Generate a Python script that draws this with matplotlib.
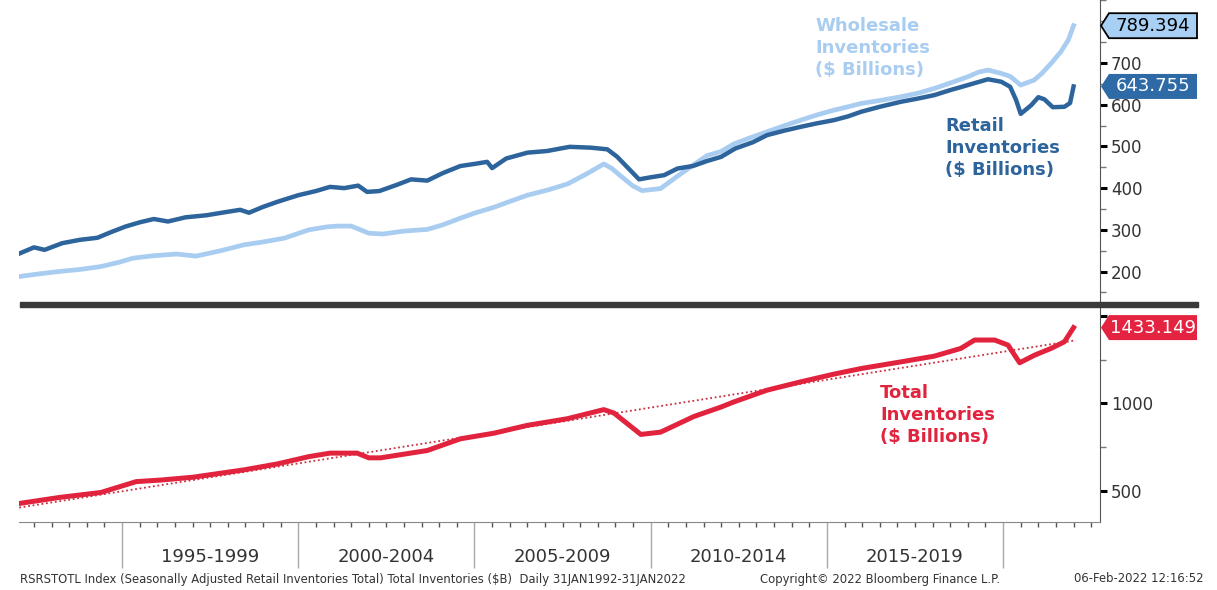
import numpy as np
import matplotlib
matplotlib.use('Agg')
import matplotlib.pyplot as plt
from matplotlib.patches import Polygon, Rectangle
from matplotlib.ticker import MultipleLocator, FixedLocator
from matplotlib.transforms import IdentityTransform, blended_transform_factory

plt.rcParams['font.family'] = 'DejaVu Sans'

# retail inventories ($B), month-end samples as decimal years
retail_t = [1992.08, 1992.5, 1992.8, 1993.3, 1993.8, 1994.3, 1994.7, 1995.1, 1995.5, 1995.9,
            1996.3, 1996.8, 1997.4, 1997.9, 1998.35, 1998.6, 1999.0, 1999.4, 2000.0, 2000.5,
            2000.9, 2001.3, 2001.7, 2001.95, 2002.3, 2002.8, 2003.2, 2003.66, 2004.1, 2004.6,
            2005.0, 2005.36, 2005.5, 2005.9, 2006.5, 2007.06, 2007.7, 2008.3, 2008.77, 2009.05,
            2009.67, 2010.0, 2010.38, 2010.76, 2011.2, 2011.6, 2012.0, 2012.4, 2012.9, 2013.3,
            2013.8, 2014.26, 2014.7, 2015.2, 2015.6, 2015.97, 2016.5, 2017.1, 2017.6, 2018.05,
            2018.5, 2019.0, 2019.57, 2019.95, 2020.2, 2020.37, 2020.5, 2020.8, 2021.0, 2021.17,
            2021.41, 2021.74, 2021.9, 2022.0]
retail_v = [243, 258, 252, 268, 276, 281, 295, 308, 318, 326,
            320, 330, 335, 342, 348, 341, 355, 367, 383, 393,
            403, 400, 406, 391, 393, 408, 421, 418, 436, 453,
            458, 463, 448, 471, 485, 489, 499, 497, 493, 475,
            421, 426, 431, 447, 453, 465, 475, 495, 510, 527,
            538, 547, 555, 563, 572, 583, 595, 607, 615, 623,
            635, 647, 661, 655, 643, 611, 578, 599, 618, 613,
            594, 595, 604, 643.755]

# wholesale inventories ($B)
whole_t = [1992.08, 1992.6, 1993.2, 1993.8, 1994.4, 1994.9, 1995.3, 1995.9, 1996.55, 1997.1,
           1997.8, 1998.45, 1999.0, 1999.6, 2000.3, 2000.8, 2001.1, 2001.5, 2002.0, 2002.4,
           2003.0, 2003.66, 2004.1, 2004.6, 2005.0, 2005.55, 2006.0, 2006.5, 2007.1, 2007.64,
           2008.2, 2008.67, 2008.9, 2009.15, 2009.5, 2009.76, 2010.28, 2010.7, 2011.2, 2011.6,
           2012.0, 2012.36, 2012.8, 2013.3, 2013.8, 2014.26, 2014.7, 2015.2, 2015.6, 2015.97,
           2016.5, 2017.1, 2017.6, 2018.05, 2018.5, 2019.0, 2019.3, 2019.57, 2019.95, 2020.2,
           2020.5, 2020.88, 2021.1, 2021.36, 2021.64, 2021.85, 2022.0]
whole_v = [188, 194, 200, 205, 212, 222, 232, 238, 242, 237,
           250, 264, 271, 280, 300, 307, 309, 309, 292, 290,
           297, 301, 312, 328, 340, 354, 368, 383, 396, 410,
           435, 458, 447, 429, 405, 394, 399, 425, 455, 478,
           488, 506, 520, 535, 550, 563, 575, 587, 595, 603,
           610, 619, 628, 639, 652, 667, 678, 683, 675, 668,
           647, 659, 675, 699, 727, 755, 789.394]

# total inventories ($B)
total_t = [1992.08, 1993.24, 1994.4, 1995.4, 1996.1, 1997.0, 1998.45, 1999.4, 2000.3, 2000.9,
           2001.67, 2002.0, 2002.33, 2003.66, 2004.6, 2005.55, 2006.5, 2007.64, 2008.67, 2008.96,
           2009.72, 2010.28, 2011.23, 2012.0, 2012.36, 2013.3, 2014.26, 2015.2, 2015.97, 2017.1,
           2018.05, 2018.8, 2019.19, 2019.76, 2020.14, 2020.47, 2020.9, 2021.36, 2021.74, 2022.0]
total_v = [427, 462, 490, 552, 561, 577, 619, 653, 695, 715,
           715, 688, 688, 730, 797, 829, 874, 912, 964, 944,
           822, 835, 925, 979, 1008, 1075, 1123, 1167, 1199, 1237,
           1270, 1314, 1362, 1362, 1333, 1232, 1276, 1314, 1352, 1433.149]

period_starts = [1995, 2000, 2005, 2010, 2015]

footer_left = ('RSRSTOTL Index (Seasonally Adjusted Retail Inventories Total) Total Inventories ($B)'
               '  Daily 31JAN1992-31JAN2022')
footer_mid = 'Copyright\u00a9 2022 Bloomberg Finance L.P.'
footer_right = '06-Feb-2022 12:16:52'

LIGHT = '#a9cdf1'
DARK = '#2d649c'
RED = '#e2233d'
TXT = '#333333'

W, H = 1217, 590
fig = plt.figure(figsize=(W / 100, H / 100), dpi=100)


def px_axes(x0, y0, x1, y1):
    return fig.add_axes([x0 / W, 1 - y1 / H, (x1 - x0) / W, (y1 - y0) / H])


ax_top = px_axes(19.2, 0, 1100, 302)
ax_bot = px_axes(19.2, 307, 1100, 522)

for ax in (ax_top, ax_bot):
    ax.set_xlim(1992.08, 2022.75)
    for s in ('left', 'top'):
        ax.spines[s].set_visible(False)
    ax.spines['right'].set_color('#555555')
    ax.yaxis.tick_right()
    ax.tick_params(axis='y', which='major', direction='out', length=5, width=2.2,
                   color='black', labelsize=12, labelcolor=TXT, pad=3)
    ax.tick_params(axis='y', which='minor', direction='out', length=4, width=1,
                   color='#777777')

# upper panel: retail and wholesale
ax_top.plot(whole_t, whole_v, color=LIGHT, lw=3.4, solid_joinstyle='round')
ax_top.plot(retail_t, retail_v, color=DARK, lw=3.2, solid_joinstyle='round')
ax_top.set_ylim(127, 851)
ax_top.yaxis.set_major_locator(FixedLocator([200, 300, 400, 500, 600, 700]))
ax_top.yaxis.set_minor_locator(MultipleLocator(50))
ax_top.spines['bottom'].set_visible(False)
ax_top.tick_params(axis='x', which='both', bottom=False, labelbottom=False)

# lower panel: total with linear trend
tt = np.array(total_t)
tv = np.array(total_v)
coef = np.polyfit(tt, tv, 1)
ax_bot.plot([tt[0], tt[-1]], np.polyval(coef, [tt[0], tt[-1]]), color='#c83040',
            lw=1.3, ls=(0, (1, 1.5)))
ax_bot.plot(total_t, total_v, color=RED, lw=3.6, solid_joinstyle='round')
ax_bot.set_ylim(321, 1551)
ax_bot.yaxis.set_major_locator(FixedLocator([500, 1000, 1500]))
ax_bot.yaxis.set_minor_locator(MultipleLocator(250))
ax_bot.set_yticklabels(['500', '1000', ''])
ax_bot.spines['bottom'].set_color('#888888')

ax_bot.xaxis.set_major_locator(FixedLocator([1995, 2000, 2005, 2010, 2015, 2020]))
ax_bot.xaxis.set_minor_locator(MultipleLocator(0.5))
ax_bot.tick_params(axis='x', which='major', direction='out', length=33, width=1,
                   color='#a8a8a8', labelbottom=False)
ax_bot.tick_params(axis='x', which='minor', direction='out', length=3.5, width=1,
                   color='#555555')

bt = blended_transform_factory(ax_bot.transData, ax_bot.transAxes)
for start in period_starts:
    ax_bot.text(start + 2.5, -0.163, f'{start}-{start + 4}', transform=bt,
                ha='center', va='center', fontsize=13, color=TXT)

# series captions, placed in pixel coordinates (origin bottom-left)
fig.text(815, H - 17, 'Wholesale\nInventories\n($ Billions)', transform=IdentityTransform(),
         color=LIGHT, fontsize=13, fontweight='bold', va='top', linespacing=1.3)
fig.text(945, H - 117, 'Retail\nInventories\n($ Billions)', transform=IdentityTransform(),
         color=DARK, fontsize=13, fontweight='bold', va='top', linespacing=1.3)
fig.text(880, H - 384, 'Total\nInventories\n($ Billions)', transform=IdentityTransform(),
         color=RED, fontsize=13, fontweight='bold', va='top', linespacing=1.3)

# thick divider between the panels
fig.add_artist(Rectangle((20 / W, 1 - 307 / H), (1198 - 20) / W, 5 / H,
                         transform=fig.transFigure, color='#3a3a3a', zorder=5))


def last_value_tag(ax, val, face, txtcolor, edge=None):
    xr, yc = ax.transData.transform((ax.get_xlim()[1], val))
    h = 12.5
    pts = [(xr + 1, yc), (xr + 9, yc + h), (xr + 97, yc + h), (xr + 97, yc - h), (xr + 9, yc - h)]
    fig.add_artist(Polygon(pts, closed=True, transform=IdentityTransform(),
                           facecolor=face, edgecolor=edge if edge else face,
                           lw=1.3 if edge else 0, zorder=10))
    fig.text(xr + 53, yc, f'{val:.3f}', transform=IdentityTransform(), ha='center',
             va='center', fontsize=13, color=txtcolor, zorder=11)


last_value_tag(ax_top, whole_v[-1], '#a8d0f5', 'black', edge='black')
last_value_tag(ax_top, retail_v[-1], '#2e6aa6', 'white')
last_value_tag(ax_bot, total_v[-1], '#e3233f', 'white')

fig.text(20 / W, 1 - 579 / H, footer_left, fontsize=8.4, va='center', color=TXT)
fig.text(880 / W, 1 - 579 / H, footer_mid, fontsize=8.4, va='center', ha='center', color=TXT)
fig.text(1203 / W, 1 - 579 / H, footer_right, fontsize=8.4, va='center', ha='right', color=TXT)

fig.savefig('out.png', dpi=100, facecolor='white')
